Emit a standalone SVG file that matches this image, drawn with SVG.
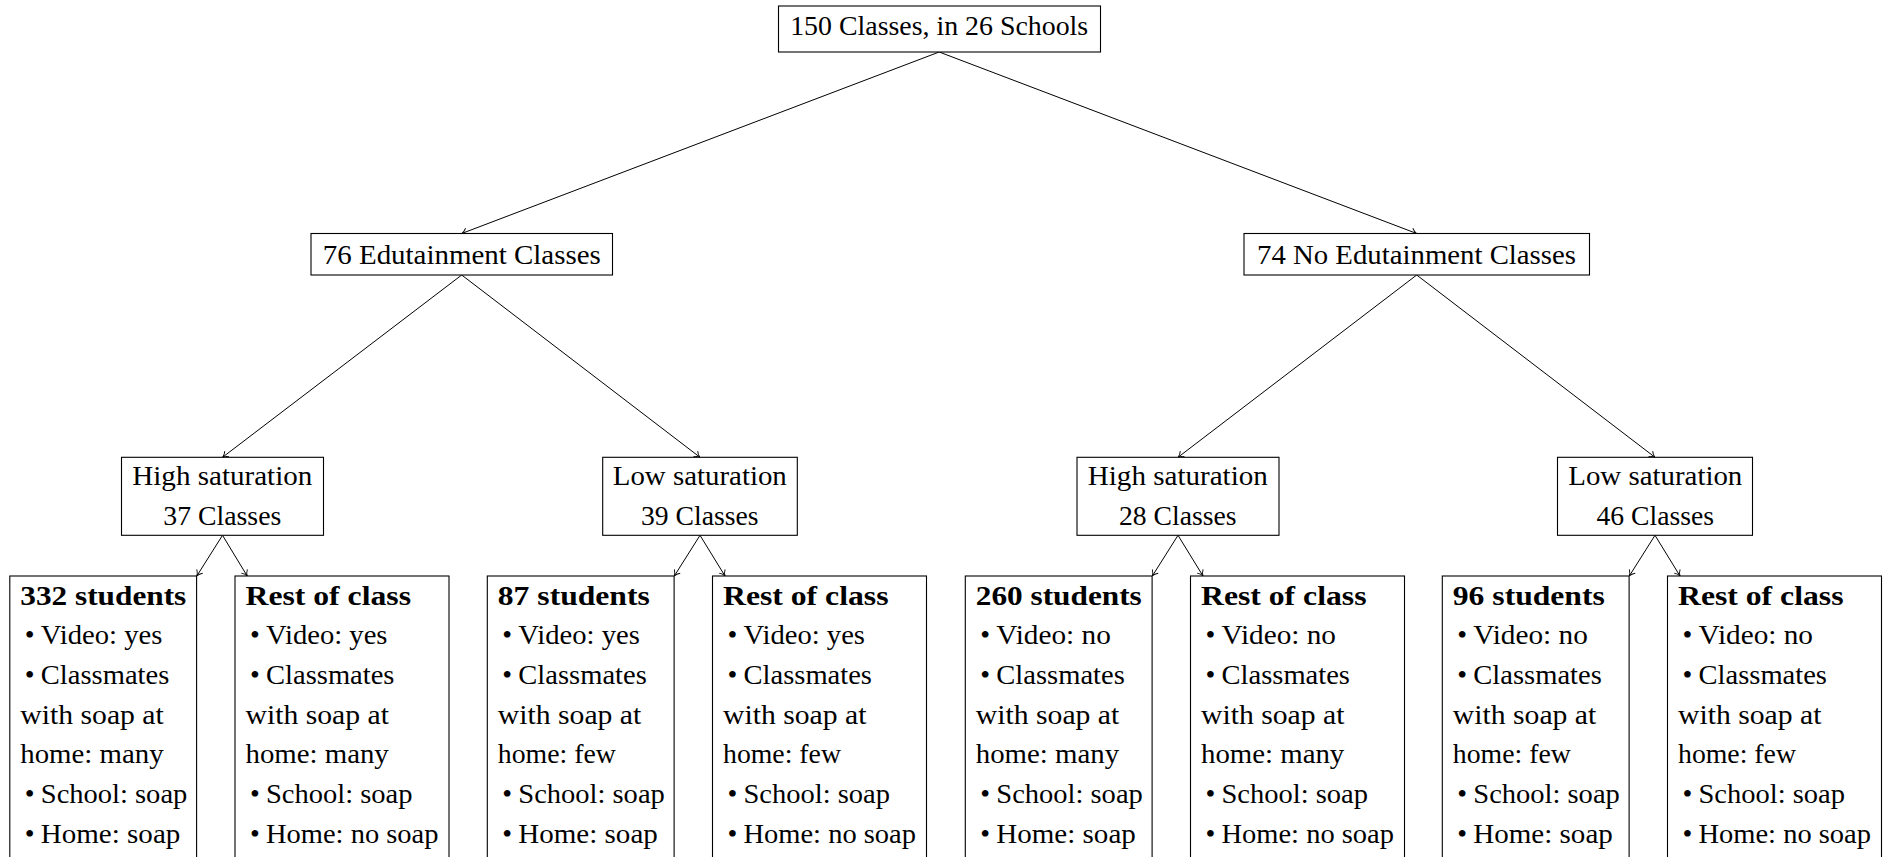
<svg xmlns="http://www.w3.org/2000/svg" width="1884" height="857" viewBox="0 0 1884 857">
<style>
.box{fill:#fff;stroke:#000;stroke-width:1.1}
.t{font-family:"Liberation Serif","Times New Roman",serif;font-size:26.5px;fill:#000}
.c{text-anchor:middle}
.b{font-weight:bold}
.u{font-family:"Liberation Serif","Times New Roman",serif;font-size:28px;fill:#000;text-anchor:middle}
.edge{stroke:#000;stroke-width:1;fill:none;marker-end:url(#arr)}
</style>
<defs>
<marker id="arr" markerUnits="userSpaceOnUse" viewBox="-7 -5 9 10" refX="0" refY="0" markerWidth="9" markerHeight="10" orient="auto" overflow="visible">
<path d="M-5.5,-3.5 C-3.8,-1.6 -1.6,-0.4 0,0 C-1.6,0.4 -3.8,1.6 -5.5,3.5" fill="none" stroke="#000" stroke-width="0.9"/>
</marker>
</defs>
<rect width="1884" height="857" fill="#fff"/>
<g id="connectors">
<line class="edge" x1="939.2" y1="52" x2="461.7" y2="233.5"/>
<line class="edge" x1="939.2" y1="52" x2="1416.7" y2="233.5"/>
<line class="edge" x1="461.7" y1="275" x2="222.5" y2="457.3"/>
<line class="edge" x1="461.7" y1="275" x2="700" y2="457.3"/>
<line class="edge" x1="1416.7" y1="275" x2="1178" y2="457.3"/>
<line class="edge" x1="1416.7" y1="275" x2="1655" y2="457.3"/>
<line class="edge" x1="222.5" y1="535.3" x2="196.8" y2="576"/>
<line class="edge" x1="222.5" y1="535.3" x2="247.2" y2="576"/>
<line class="edge" x1="700" y1="535.3" x2="674.3" y2="576"/>
<line class="edge" x1="700" y1="535.3" x2="725" y2="576"/>
<line class="edge" x1="1178" y1="535.3" x2="1152.3" y2="576"/>
<line class="edge" x1="1178" y1="535.3" x2="1203" y2="576"/>
<line class="edge" x1="1655" y1="535.3" x2="1629.3" y2="576"/>
<line class="edge" x1="1655" y1="535.3" x2="1680" y2="576"/>
</g>
<g id="root">
<rect class="box" x="778.5" y="6" width="322" height="46"/>
<text class="t c" x="939.2" y="34.5" textLength="298" lengthAdjust="spacingAndGlyphs">150 Classes, in 26 Schools</text>
</g>
<g id="edu">
<rect class="box" x="311" y="233.5" width="301.5" height="41.5"/>
<text class="t c" x="461.8" y="264.3" textLength="278" lengthAdjust="spacingAndGlyphs">76 Edutainment Classes</text>
</g>
<g id="noedu">
<rect class="box" x="1244" y="233.5" width="345.5" height="41.5"/>
<text class="t c" x="1416.5" y="264.3" textLength="319" lengthAdjust="spacingAndGlyphs">74 No Edutainment Classes</text>
</g>
<g id="edu-high">
<rect class="box" x="121.5" y="457.3" width="202" height="78"/>
<text class="t c" x="222.3" y="485" textLength="180" lengthAdjust="spacingAndGlyphs">High saturation</text>
<text class="t c" x="222.3" y="524.5" textLength="118" lengthAdjust="spacingAndGlyphs">37 Classes</text>
</g>
<g id="edu-low">
<rect class="box" x="602.7" y="457.3" width="194.6" height="78"/>
<text class="t c" x="699.8" y="485" textLength="174" lengthAdjust="spacingAndGlyphs">Low saturation</text>
<text class="t c" x="699.8" y="524.5" textLength="117.5" lengthAdjust="spacingAndGlyphs">39 Classes</text>
</g>
<g id="noedu-high">
<rect class="box" x="1077" y="457.3" width="202" height="78"/>
<text class="t c" x="1177.8" y="485" textLength="180" lengthAdjust="spacingAndGlyphs">High saturation</text>
<text class="t c" x="1177.8" y="524.5" textLength="117.5" lengthAdjust="spacingAndGlyphs">28 Classes</text>
</g>
<g id="noedu-low">
<rect class="box" x="1557.5" y="457.3" width="195" height="78"/>
<text class="t c" x="1655.3" y="485" textLength="174" lengthAdjust="spacingAndGlyphs">Low saturation</text>
<text class="t c" x="1655.3" y="524.5" textLength="117.5" lengthAdjust="spacingAndGlyphs">46 Classes</text>
</g>
<g id="leaf1">
<rect class="box" x="9.8" y="576" width="186.8" height="300"/>
<text class="t b" x="20.3" y="604.5" textLength="166" lengthAdjust="spacingAndGlyphs">332 students</text>
<text class="u" x="29.6" y="644.3">•</text><text class="t" x="40.8" y="644.3" textLength="121.5" lengthAdjust="spacingAndGlyphs">Video: yes</text>
<text class="u" x="29.6" y="684">•</text><text class="t" x="40.8" y="684" textLength="128.5" lengthAdjust="spacingAndGlyphs">Classmates</text>
<text class="t" x="20.3" y="723.7" textLength="143.5" lengthAdjust="spacingAndGlyphs">with soap at</text>
<text class="t" x="20.3" y="763.3" textLength="143.3" lengthAdjust="spacingAndGlyphs">home: many</text>
<text class="u" x="29.6" y="803.3">•</text><text class="t" x="40.8" y="803.3" textLength="146.5" lengthAdjust="spacingAndGlyphs">School: soap</text>
<text class="u" x="29.6" y="843">•</text><text class="t" x="40.8" y="843" textLength="139.5" lengthAdjust="spacingAndGlyphs">Home: soap</text>
</g>
<g id="leaf2">
<rect class="box" x="235" y="576" width="214" height="300"/>
<text class="t b" x="245.5" y="604.5" textLength="165.5" lengthAdjust="spacingAndGlyphs">Rest of class</text>
<text class="u" x="254.8" y="644.3">•</text><text class="t" x="266" y="644.3" textLength="121.5" lengthAdjust="spacingAndGlyphs">Video: yes</text>
<text class="u" x="254.8" y="684">•</text><text class="t" x="266" y="684" textLength="128.5" lengthAdjust="spacingAndGlyphs">Classmates</text>
<text class="t" x="245.5" y="723.7" textLength="143.5" lengthAdjust="spacingAndGlyphs">with soap at</text>
<text class="t" x="245.5" y="763.3" textLength="143.3" lengthAdjust="spacingAndGlyphs">home: many</text>
<text class="u" x="254.8" y="803.3">•</text><text class="t" x="266" y="803.3" textLength="146.5" lengthAdjust="spacingAndGlyphs">School: soap</text>
<text class="u" x="254.8" y="843">•</text><text class="t" x="266" y="843" textLength="172.5" lengthAdjust="spacingAndGlyphs">Home: no soap</text>
</g>
<g id="leaf3">
<rect class="box" x="487.3" y="576" width="186.8" height="300"/>
<text class="t b" x="497.8" y="604.5" textLength="152" lengthAdjust="spacingAndGlyphs">87 students</text>
<text class="u" x="507.1" y="644.3">•</text><text class="t" x="518.3" y="644.3" textLength="121.5" lengthAdjust="spacingAndGlyphs">Video: yes</text>
<text class="u" x="507.1" y="684">•</text><text class="t" x="518.3" y="684" textLength="128.5" lengthAdjust="spacingAndGlyphs">Classmates</text>
<text class="t" x="497.8" y="723.7" textLength="143.5" lengthAdjust="spacingAndGlyphs">with soap at</text>
<text class="t" x="497.8" y="763.3" textLength="118" lengthAdjust="spacingAndGlyphs">home: few</text>
<text class="u" x="507.1" y="803.3">•</text><text class="t" x="518.3" y="803.3" textLength="146.5" lengthAdjust="spacingAndGlyphs">School: soap</text>
<text class="u" x="507.1" y="843">•</text><text class="t" x="518.3" y="843" textLength="139.5" lengthAdjust="spacingAndGlyphs">Home: soap</text>
</g>
<g id="leaf4">
<rect class="box" x="712.5" y="576" width="214" height="300"/>
<text class="t b" x="723" y="604.5" textLength="165.5" lengthAdjust="spacingAndGlyphs">Rest of class</text>
<text class="u" x="732.3" y="644.3">•</text><text class="t" x="743.5" y="644.3" textLength="121.5" lengthAdjust="spacingAndGlyphs">Video: yes</text>
<text class="u" x="732.3" y="684">•</text><text class="t" x="743.5" y="684" textLength="128.5" lengthAdjust="spacingAndGlyphs">Classmates</text>
<text class="t" x="723" y="723.7" textLength="143.5" lengthAdjust="spacingAndGlyphs">with soap at</text>
<text class="t" x="723" y="763.3" textLength="118" lengthAdjust="spacingAndGlyphs">home: few</text>
<text class="u" x="732.3" y="803.3">•</text><text class="t" x="743.5" y="803.3" textLength="146.5" lengthAdjust="spacingAndGlyphs">School: soap</text>
<text class="u" x="732.3" y="843">•</text><text class="t" x="743.5" y="843" textLength="172.5" lengthAdjust="spacingAndGlyphs">Home: no soap</text>
</g>
<g id="leaf5">
<rect class="box" x="965.3" y="576" width="186.8" height="300"/>
<text class="t b" x="975.8" y="604.5" textLength="166" lengthAdjust="spacingAndGlyphs">260 students</text>
<text class="u" x="985.1" y="644.3">•</text><text class="t" x="996.3" y="644.3" textLength="114.5" lengthAdjust="spacingAndGlyphs">Video: no</text>
<text class="u" x="985.1" y="684">•</text><text class="t" x="996.3" y="684" textLength="128.5" lengthAdjust="spacingAndGlyphs">Classmates</text>
<text class="t" x="975.8" y="723.7" textLength="143.5" lengthAdjust="spacingAndGlyphs">with soap at</text>
<text class="t" x="975.8" y="763.3" textLength="143.3" lengthAdjust="spacingAndGlyphs">home: many</text>
<text class="u" x="985.1" y="803.3">•</text><text class="t" x="996.3" y="803.3" textLength="146.5" lengthAdjust="spacingAndGlyphs">School: soap</text>
<text class="u" x="985.1" y="843">•</text><text class="t" x="996.3" y="843" textLength="139.5" lengthAdjust="spacingAndGlyphs">Home: soap</text>
</g>
<g id="leaf6">
<rect class="box" x="1190.5" y="576" width="214" height="300"/>
<text class="t b" x="1201" y="604.5" textLength="165.5" lengthAdjust="spacingAndGlyphs">Rest of class</text>
<text class="u" x="1210.3" y="644.3">•</text><text class="t" x="1221.5" y="644.3" textLength="114.5" lengthAdjust="spacingAndGlyphs">Video: no</text>
<text class="u" x="1210.3" y="684">•</text><text class="t" x="1221.5" y="684" textLength="128.5" lengthAdjust="spacingAndGlyphs">Classmates</text>
<text class="t" x="1201" y="723.7" textLength="143.5" lengthAdjust="spacingAndGlyphs">with soap at</text>
<text class="t" x="1201" y="763.3" textLength="143.3" lengthAdjust="spacingAndGlyphs">home: many</text>
<text class="u" x="1210.3" y="803.3">•</text><text class="t" x="1221.5" y="803.3" textLength="146.5" lengthAdjust="spacingAndGlyphs">School: soap</text>
<text class="u" x="1210.3" y="843">•</text><text class="t" x="1221.5" y="843" textLength="172.5" lengthAdjust="spacingAndGlyphs">Home: no soap</text>
</g>
<g id="leaf7">
<rect class="box" x="1442.3" y="576" width="186.8" height="300"/>
<text class="t b" x="1452.8" y="604.5" textLength="152" lengthAdjust="spacingAndGlyphs">96 students</text>
<text class="u" x="1462.1" y="644.3">•</text><text class="t" x="1473.3" y="644.3" textLength="114.5" lengthAdjust="spacingAndGlyphs">Video: no</text>
<text class="u" x="1462.1" y="684">•</text><text class="t" x="1473.3" y="684" textLength="128.5" lengthAdjust="spacingAndGlyphs">Classmates</text>
<text class="t" x="1452.8" y="723.7" textLength="143.5" lengthAdjust="spacingAndGlyphs">with soap at</text>
<text class="t" x="1452.8" y="763.3" textLength="118" lengthAdjust="spacingAndGlyphs">home: few</text>
<text class="u" x="1462.1" y="803.3">•</text><text class="t" x="1473.3" y="803.3" textLength="146.5" lengthAdjust="spacingAndGlyphs">School: soap</text>
<text class="u" x="1462.1" y="843">•</text><text class="t" x="1473.3" y="843" textLength="139.5" lengthAdjust="spacingAndGlyphs">Home: soap</text>
</g>
<g id="leaf8">
<rect class="box" x="1667.5" y="576" width="214" height="300"/>
<text class="t b" x="1678" y="604.5" textLength="165.5" lengthAdjust="spacingAndGlyphs">Rest of class</text>
<text class="u" x="1687.3" y="644.3">•</text><text class="t" x="1698.5" y="644.3" textLength="114.5" lengthAdjust="spacingAndGlyphs">Video: no</text>
<text class="u" x="1687.3" y="684">•</text><text class="t" x="1698.5" y="684" textLength="128.5" lengthAdjust="spacingAndGlyphs">Classmates</text>
<text class="t" x="1678" y="723.7" textLength="143.5" lengthAdjust="spacingAndGlyphs">with soap at</text>
<text class="t" x="1678" y="763.3" textLength="118" lengthAdjust="spacingAndGlyphs">home: few</text>
<text class="u" x="1687.3" y="803.3">•</text><text class="t" x="1698.5" y="803.3" textLength="146.5" lengthAdjust="spacingAndGlyphs">School: soap</text>
<text class="u" x="1687.3" y="843">•</text><text class="t" x="1698.5" y="843" textLength="172.5" lengthAdjust="spacingAndGlyphs">Home: no soap</text>
</g>
</svg>
